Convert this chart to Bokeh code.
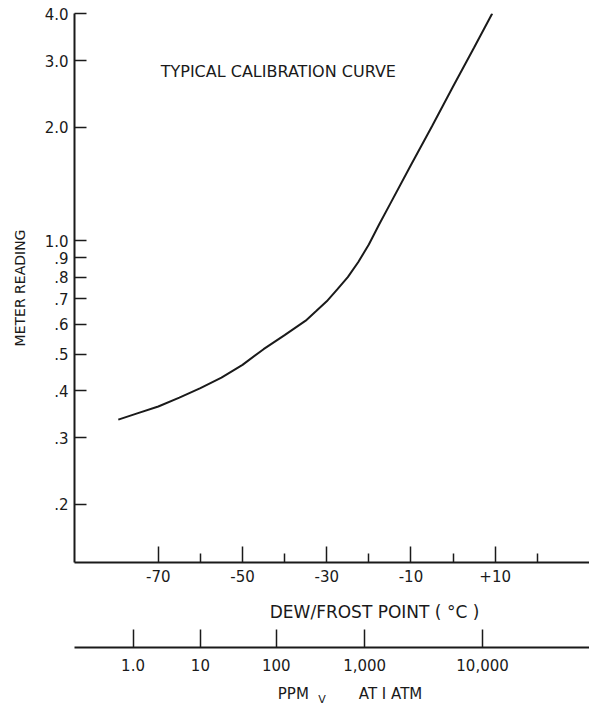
from bokeh.plotting import figure
from bokeh.layouts import column
from bokeh.models import LinearAxis, LogAxis, FixedTicker, Label, Range1d
from bokeh.embed import file_html
from bokeh.resources import INLINE

# ---- data ----
dew_c = [-79.5, -75, -70, -65, -60, -55, -50, -45, -40, -35, -32.5, -30, -27.5, -25, -22.5,
         -20, -17.5, -15, -10, -5, 0, 5, 9.3]
reading = [0.335, 0.348, 0.363, 0.383, 0.406, 0.433, 0.468, 0.515, 0.561, 0.613, 0.650, 0.690,
           0.742, 0.800, 0.877, 0.976, 1.106, 1.247, 1.585, 2.01, 2.56, 3.25, 4.0]

y_ticks = [0.2, 0.3, 0.4, 0.5, 0.6, 0.7, 0.8, 0.9, 1.0, 2.0, 3.0, 4.0]
y_tick_labels = [".2", ".3", ".4", ".5", ".6", ".7", ".8", ".9", "1.0", "2.0", "3.0", "4.0"]

x_major = [-70, -50, -30, -10, 10]
x_major_labels = ["-70", "-50", "-30", "-10", "+10"]
x_minor = [-60, -40, -20, 0, 20]

ppm_dew = [-76, -60, -42, -21, 7]          # dew point (deg C) of each ppm mark
ppm_labels = ["1.0", "10", "100", "1,000", "10,000"]

INK = "#1a1a1a"
FONT = "DejaVu Sans"

x_range = Range1d(-89.9, 32.4)


def bare(fig):
    fig.outline_line_color = None
    for g in fig.grid:
        g.visible = False


# ---------------- main chart ----------------
p = figure(width=589, height=600,
           x_range=x_range, y_range=Range1d(0.14, 4.0),
           y_axis_type="log", x_axis_location=None, y_axis_location=None,
           output_backend="svg", toolbar_location=None,
           min_border_left=74, min_border_right=0, min_border_top=13, min_border_bottom=38)
bare(p)

p.line(dew_c, reading, line_width=2, color=INK)

yax = LogAxis(ticker=FixedTicker(ticks=y_ticks),
              major_label_overrides=dict(zip(y_ticks, y_tick_labels)),
              axis_label="METER READING")
yax.axis_line_width = 2
yax.axis_line_color = INK
yax.major_tick_in = 12
yax.major_tick_out = 0
yax.minor_tick_in = 0
yax.minor_tick_out = 0
yax.major_tick_line_width = 1.5
yax.major_tick_line_color = INK
yax.major_label_standoff = 6
yax.major_label_text_font = FONT
yax.major_label_text_font_size = "15px"
yax.major_label_text_color = INK
yax.axis_label_standoff = 14
yax.axis_label_text_font = FONT
yax.axis_label_text_font_size = "14px"
yax.axis_label_text_font_style = "normal"
yax.axis_label_text_color = INK
p.add_layout(yax, "left")

xax = LinearAxis(ticker=FixedTicker(ticks=x_major, minor_ticks=x_minor),
                 major_label_overrides=dict(zip(x_major, x_major_labels)))
xax.axis_line_width = 2
xax.axis_line_color = INK
xax.major_tick_in = 16
xax.major_tick_out = 0
xax.minor_tick_in = 9
xax.minor_tick_out = 0
xax.major_tick_line_width = 1.5
xax.minor_tick_line_width = 1.5
xax.major_tick_line_color = INK
xax.minor_tick_line_color = INK
xax.major_label_standoff = 7
xax.major_label_text_font = FONT
xax.major_label_text_font_size = "15px"
xax.major_label_text_color = INK
p.add_layout(xax, "below")

p.add_layout(Label(x=-41.5, y=2.80, text="TYPICAL CALIBRATION CURVE", text_align="center",
                   text_baseline="middle", text_font=FONT, text_font_size="16px", text_color=INK))

# ---------------- middle strip: dew-point title + ppm axis ----------------
m = figure(width=589, height=80, x_range=x_range, y_range=Range1d(0, 47),
           x_axis_location=None, y_axis_location=None,
           output_backend="svg", toolbar_location=None,
           min_border_left=74, min_border_right=0, min_border_top=0, min_border_bottom=33)
bare(m)
m.add_layout(Label(x=-18.65, y=36, text="DEW/FROST POINT ( °C )", text_align="center",
                   text_baseline="middle", text_font=FONT, text_font_size="17px", text_color=INK))

pax = LinearAxis(ticker=FixedTicker(ticks=ppm_dew, minor_ticks=[]),
                 major_label_overrides=dict(zip(ppm_dew, ppm_labels)))
pax.axis_line_width = 2
pax.axis_line_color = INK
pax.major_tick_in = 18
pax.major_tick_out = 0
pax.minor_tick_in = 0
pax.minor_tick_out = 0
pax.major_tick_line_width = 1.5
pax.major_tick_line_color = INK
pax.major_label_standoff = 11
pax.major_label_text_font = FONT
pax.major_label_text_font_size = "15px"
pax.major_label_text_color = INK
m.add_layout(pax, "below")

# ---------------- bottom strip: ppm axis title (PPM with subscript V) ----------------
q = figure(width=589, height=26, x_range=x_range, y_range=Range1d(0, 26),
           x_axis_location=None, y_axis_location=None,
           output_backend="svg", toolbar_location=None,
           min_border_left=74, min_border_right=0, min_border_top=0, min_border_bottom=0)
bare(q)
q.add_layout(Label(x=-34.25, y=13, text="PPM", text_align="right", text_baseline="middle",
                   text_font=FONT, text_font_size="15px", text_color=INK))
q.add_layout(Label(x=-31.1, y=7.5, text="V", text_align="center", text_baseline="middle",
                   text_font=FONT, text_font_size="11px", text_color=INK))
q.add_layout(Label(x=-14.85, y=13, text="AT I ATM", text_align="center", text_baseline="middle",
                   text_font=FONT, text_font_size="15px", text_color=INK))

layout = column(p, m, q, spacing=0)
open("out.html", "w").write(file_html(layout, INLINE))
